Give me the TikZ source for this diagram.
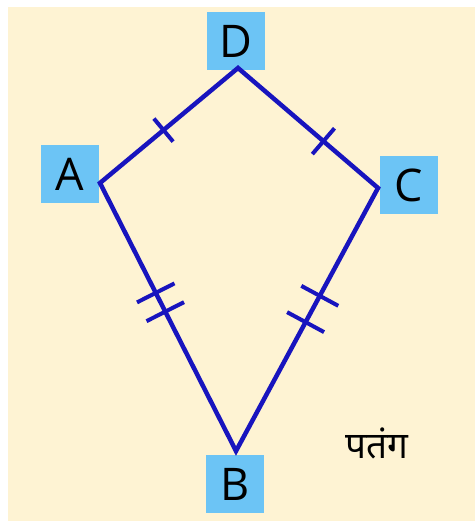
\documentclass[tikz,border=0pt]{standalone}
\usepackage{fontspec}
\setmainfont{Open Sans}
\newfontfamily\devfont[Script=Devanagari]{Noto Sans}
\usetikzlibrary{calc}
\definecolor{cream}{RGB}{254,243,211}
\definecolor{kiteblue}{RGB}{24,20,190}
\definecolor{boxblue}{RGB}{108,196,245}
\tikzset{
  lbl/.style={fill=boxblue, minimum width=58pt, minimum height=58pt, inner sep=0pt, font=\fontsize{45}{45}\selectfont, text=black},
  edge/.style={draw=kiteblue, line width=4.5pt, line join=miter},
  tk/.style={draw=kiteblue, line width=4pt}
}
\begin{document}
\begin{tikzpicture}[x=1pt,y=-1pt]
\fill[white] (0,0) rectangle (475,521);
\fill[cream] (8,7) rectangle (475,521);
\useasboundingbox (0,0) rectangle (475,521);
% vertices
\coordinate (D) at (238,68);
\coordinate (A) at (100,183);
\coordinate (C) at (378,188);
\coordinate (B) at (236,451);
% labels
\node[lbl] (lD) at (236,41) {D};
\node[lbl] (lA) at (70,174) {A};
\node[lbl] (lC) at (409,185) {C};
\node[lbl] (lB) at (235,484) {B};
% kite
\draw[edge] (A) -- (D) -- (C) -- (B) -- cycle;
% single ticks
\draw[tk] ($(A)!0.46!(D)!15pt!90:(D)$) -- ($(A)!0.46!(D)!15pt!-90:(D)$);
\draw[tk] ($(D)!0.61!(C)!17pt!90:(C)$) -- ($(D)!0.61!(C)!17pt!-90:(C)$);
% double ticks
\draw[tk] ($(A)!0.41!(B)!21pt!90:(B)$) -- ($(A)!0.41!(B)!21pt!-90:(B)$);
\draw[tk] ($(A)!0.48!(B)!21pt!90:(B)$) -- ($(A)!0.48!(B)!21pt!-90:(B)$);
\draw[tk] ($(C)!0.41!(B)!21pt!90:(B)$) -- ($(C)!0.41!(B)!21pt!-90:(B)$);
\draw[tk] ($(C)!0.51!(B)!21pt!90:(B)$) -- ($(C)!0.51!(B)!21pt!-90:(B)$);
% caption
\node[font=\devfont\fontsize{37}{37}\selectfont, text=black] (cap) at (377,443) {पतंग};
\end{tikzpicture}
\end{document}
